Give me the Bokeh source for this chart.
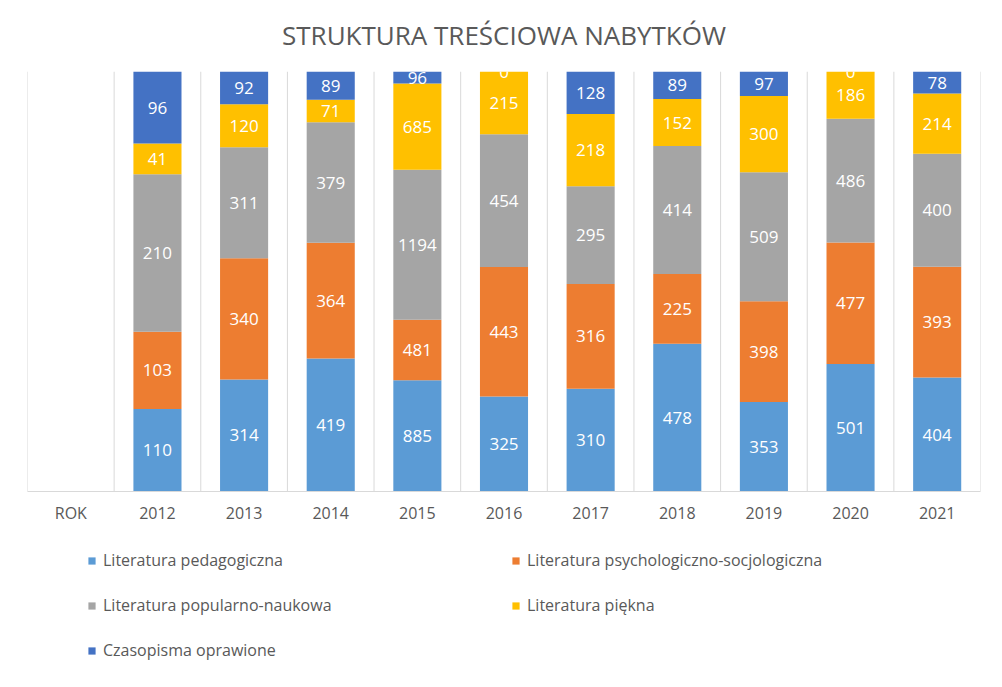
from bokeh.plotting import figure
from bokeh.layouts import column
from bokeh.models import ColumnDataSource, FactorRange, Range1d, Span, Legend, LegendItem
from bokeh.core.properties import value
from bokeh.embed import file_html
from bokeh.resources import INLINE

categories = ["ROK", "2012", "2013", "2014", "2015", "2016", "2017", "2018", "2019", "2020", "2021"]
years = categories[1:]

pedagogiczna = [110, 314, 419, 885, 325, 310, 478, 353, 501, 404]
psych_socjo = [103, 340, 364, 481, 443, 316, 225, 398, 477, 393]
popularno_naukowa = [210, 311, 379, 1194, 454, 295, 414, 509, 486, 400]
piekna = [41, 120, 71, 685, 215, 218, 152, 300, 186, 214]
czasopisma = [96, 92, 89, 96, 0, 128, 89, 97, 0, 78]

series_names = [
    "Literatura pedagogiczna",
    "Literatura psychologiczno-socjologiczna",
    "Literatura popularno-naukowa",
    "Literatura piękna",
    "Czasopisma oprawione",
]
series = [pedagogiczna, psych_socjo, popularno_naukowa, piekna, czasopisma]
colors = ["#5B9BD5", "#ED7D31", "#A5A5A5", "#FFC000", "#4472C4"]

totals = [sum(col) for col in zip(*series)]
keys = ["s%d" % i for i in range(len(series))]
data = {"x": years}
for k, vals in zip(keys, series):
    data[k] = [v / t for v, t in zip(vals, totals)]
source = ColumnDataSource(data)

# label positions (segment midpoints in percent-stacked space)
lx, ly, lt = [], [], []
base = [0.0] * len(years)
for k, vals in zip(keys, series):
    for i, yr in enumerate(years):
        frac = data[k][i]
        lx.append(yr)
        ly.append(base[i] + frac / 2)
        lt.append(str(vals[i]))
        base[i] += frac
label_source = ColumnDataSource(dict(x=lx, y=ly, text=lt))

p = figure(
    x_range=FactorRange(*categories),
    y_range=Range1d(0, 1),
    width=1000, height=540,
    output_backend="svg", toolbar_location=None,
    min_border_left=27, min_border_right=20, min_border_top=71, min_border_bottom=49,
    y_axis_location=None,
)
p.outline_line_color = None
p.xgrid.visible = False
p.ygrid.visible = False

for i in range(len(categories) + 1):
    p.add_layout(Span(location=i, dimension="height", line_color="#D9D9D9", line_width=1, level="underlay"))

renderers = p.vbar_stack(keys, x="x", width=0.555, color=colors, line_color=None, source=source)

p.text(x="x", y="y", text="text", source=label_source,
       text_align="center", text_baseline="middle", text_color="white",
       text_font=value("Open Sans"), text_font_size="17px")

p.xaxis.axis_line_color = "#D9D9D9"
p.xaxis.major_tick_line_color = None
p.xaxis.minor_tick_line_color = None
p.xaxis.major_label_text_color = "#595959"
p.xaxis.major_label_text_font = "Open Sans"
p.xaxis.major_label_text_font_size = "16px"
p.xaxis.major_label_standoff = 4

p.title.text = "STRUKTURA TREŚCIOWA NABYTKÓW"
p.title.align = "center"
p.title.vertical_align = "top"
p.title.text_font = "Open Sans"
p.title.text_font_size = "26px"
p.title.text_font_style = "normal"
p.title.text_color = "#595959"
p.title.standoff = 33

# legend panel below the chart
p2 = figure(
    width=1000, height=146, x_range=Range1d(0, 1000), y_range=Range1d(0, 146),
    output_backend="svg", toolbar_location=None,
    x_axis_location=None, y_axis_location=None,
    min_border_left=0, min_border_right=0, min_border_top=0, min_border_bottom=0,
)
p2.outline_line_color = None
p2.xgrid.visible = False
p2.ygrid.visible = False
# zero-size proxy glyphs, used only for the legend swatches
legend_renderers = [p2.vbar(x=[0], top=[0], bottom=[0], width=0, color=c, line_color=None) for c in colors]

items = [LegendItem(label=n, renderers=[r]) for n, r in zip(series_names, legend_renderers)]
legend = Legend(
    items=items, location=(60, 25), orientation="horizontal", ncols=2,
    glyph_width=9, glyph_height=9, label_standoff=7, label_width=385, label_height=20,
    spacing=23, padding=0, margin=0,
    label_text_font="Open Sans", label_text_font_size="16px", label_text_color="#595959",
    background_fill_alpha=0, border_line_color=None,
)
p2.add_layout(legend, "center")

open("out.html", "w").write(file_html(column(p, p2, spacing=0), INLINE))
